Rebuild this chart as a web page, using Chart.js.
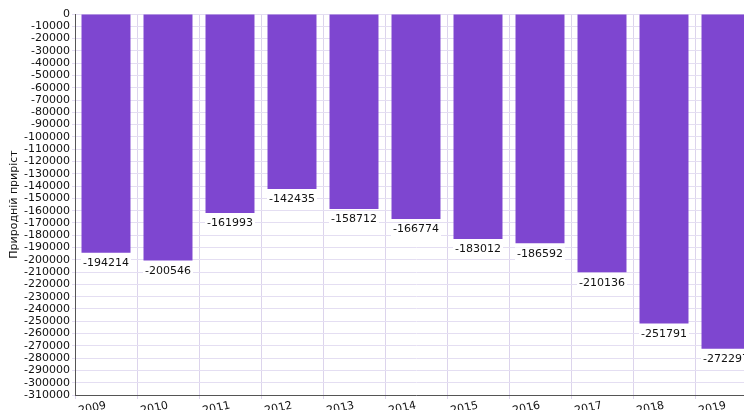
<!DOCTYPE html>
<html>
<head>
<meta charset="utf-8">
<script src="https://cdn.jsdelivr.net/npm/chart.js@4"></script>
<style>
  html, body { margin: 0; padding: 0; background: #fff; overflow: hidden; }
  #wrap { width: 760px; height: 420px; }
</style>
</head>
<body>
<div id="wrap"><canvas id="myChart"></canvas></div>
<script>
// years and natural growth values
const years = ["2009", "2010", "2011", "2012", "2013", "2014", "2015", "2016", "2017", "2018", "2019"];
const growth = [-194214, -200546, -161993, -142435, -158712, -166774, -183012, -186592, -210136, -251791, -272297];
const yTitle = "Природній приріст";

const ctx = document.getElementById("myChart").getContext("2d");

// draws value under the end of each bar, on a white box
const valueLabels = {
  id: "valueLabels",
  afterDatasetsDraw(chart) {
    const c = chart.ctx;
    const meta = chart.getDatasetMeta(0);
    c.save();
    c.font = "11px 'DejaVu Sans'";
    c.textAlign = "center";
    c.textBaseline = "top";
    meta.data.forEach((bar, i) => {
      const txt = String(growth[i]);
      const w = c.measureText(txt).width;
      const y = bar.y + 5;
      c.fillStyle = "#fff";
      c.fillRect(bar.x - w / 2 - 2, y - 1, w + 4, 14);
      c.fillStyle = "#111";
      c.fillText(txt, bar.x, y);
    });
    c.restore();
  }
};

const chart = new Chart(ctx, {
  type: "bar",
  data: {
    labels: years,
    datasets: [{
      data: growth,
      backgroundColor: "#7e46d0",
      borderWidth: 0,
      categoryPercentage: 1,
      barPercentage: 0.79
    }]
  },
  options: {
    responsive: true,
    maintainAspectRatio: false,
    animation: false,
    layout: { padding: { top: 14, right: 3, left: 8, bottom: 0 } },
    plugins: {
      legend: { display: false },
      tooltip: { enabled: false }
    },
    scales: {
      x: {
        grid: { color: "#dcd4ec", drawTicks: true, tickLength: 4 },
        border: { color: "#555", width: 1 },
        ticks: {
          color: "#111",
          font: { family: "'DejaVu Sans'", size: 11 },
          minRotation: 12,
          maxRotation: 12,
          padding: 0
        },
        afterFit: s => { s.height = 25; }
      },
      y: {
        min: -310000,
        max: 0,
        ticks: {
          stepSize: 10000,
          color: "#111",
          font: { family: "'DejaVu Sans'", size: 11 },
          padding: 2,
          autoSkip: false,
          callback: v => String(v)
        },
        grid: { color: "#e4def2", tickLength: 3 },
        border: { color: "#555", width: 1 },
        title: {
          display: true,
          text: yTitle,
          color: "#111",
          font: { family: "'DejaVu Sans'", size: 11 },
          padding: { top: 0, bottom: 4 }
        },
        afterFit: s => { s.width = 67; }
      }
    }
  },
  plugins: [valueLabels]
});
</script>
</body>
</html>
